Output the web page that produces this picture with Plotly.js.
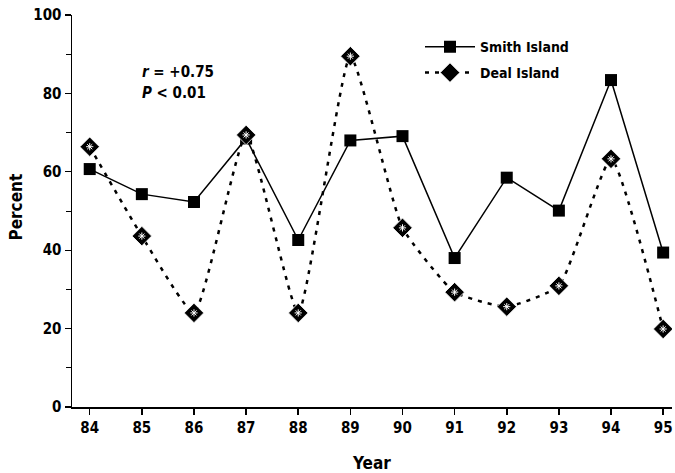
<!DOCTYPE html>
<html>
<head>
<meta charset="utf-8">
<script src="https://cdn.plot.ly/plotly-3.0.1.min.js"></script>
<style>
html,body{margin:0;padding:0;background:#fff;}
#chart{width:675px;height:473px;}
#chart text{font-stretch:condensed !important;}
</style>
</head>
<body>
<div id="chart"></div>
<script>
var years = [84, 85, 86, 87, 88, 89, 90, 91, 92, 93, 94, 95];
var smithIsland = [60.7, 54.3, 52.3, 68.5, 42.6, 68.0, 69.1, 38.0, 58.5, 50.1, 83.4, 39.4];
var dealIsland = [66.4, 43.6, 24.0, 69.4, 24.0, 89.5, 45.7, 29.3, 25.6, 30.9, 63.3, 19.9];
var yTicks = [0, 20, 40, 60, 80, 100];

var FONT = '"DejaVu Sans", sans-serif';

var traces = [
  {
    x: years, y: smithIsland, name: 'Smith Island', type: 'scatter', mode: 'lines+markers',
    legend: 'legend',
    line: {color: '#000', width: 1.5},
    marker: {symbol: 'square', size: 12, color: '#000'}
  },
  {
    x: years, y: dealIsland, name: 'Deal Island', type: 'scatter', mode: 'lines+markers',
    legend: 'legend2',
    line: {color: '#000', width: 2.5, dash: '4px,6px', shape: 'spline', smoothing: 0.45},
    marker: {symbol: 'diamond', size: 15, color: '#000', line: {color: '#fff', width: 0.8}}
  },
  {
    x: years, y: dealIsland, name: 'Deal Island', type: 'scatter', mode: 'markers',
    showlegend: false, hoverinfo: 'skip',
    marker: {symbol: 'asterisk-open', size: 6, color: '#fff', line: {color: '#fff', width: 1}}
  }
];

var legFont = {family: FONT, size: 14, color: '#000', weight: 'bold'};

var layout = {
  width: 675, height: 473,
  margin: {l: 72, r: 3, t: 15, b: 66},
  paper_bgcolor: '#fff', plot_bgcolor: '#fff',
  font: {family: FONT, color: '#000', size: 15},
  showlegend: true,
  legend: {
    x: 0.58, y: 0.918, xanchor: 'left', yanchor: 'middle',
    bgcolor: 'rgba(0,0,0,0)', borderwidth: 0, font: legFont, itemwidth: 50
  },
  legend2: {
    x: 0.58, y: 0.852, xanchor: 'left', yanchor: 'middle',
    bgcolor: 'rgba(0,0,0,0)', borderwidth: 0, font: legFont, itemwidth: 50
  },
  xaxis: {
    range: [83.66, 95.17],
    tickvals: years, ticktext: years.map(String),
    showgrid: false, zeroline: false,
    showline: true, linecolor: '#000', linewidth: 1.5,
    ticks: 'outside', ticklen: 6, tickwidth: 1.5, tickcolor: '#000',
    tickfont: {family: FONT, size: 15, weight: 'bold'},
    title: {text: 'Year', font: {family: FONT, size: 17, weight: 'bold'}, standoff: 22}
  },
  yaxis: {
    range: [0, 100],
    tickvals: yTicks, ticktext: yTicks.map(String),
    showgrid: false, zeroline: false,
    showline: true, linecolor: '#000', linewidth: 1.5,
    ticks: 'outside', ticklen: 6, tickwidth: 1.2, tickcolor: '#000',
    tickfont: {family: FONT, size: 15, weight: 'bold'},
    minor: {tickvals: [10, 30, 50, 70, 90], ticks: 'outside', ticklen: 5, tickwidth: 1, tickcolor: '#000', showgrid: false}
  },
  annotations: [
    {
      xref: 'paper', yref: 'paper', x: -0.093, y: 0.51, xanchor: 'center', yanchor: 'middle',
      showarrow: false, textangle: -90,
      text: 'Percent',
      font: {family: FONT, size: 17, weight: 'bold', color: '#000'}
    },
    {
      xref: 'paper', yref: 'paper', x: 0.113, y: 0.855, xanchor: 'left', yanchor: 'middle',
      showarrow: false, align: 'left',
      text: '<i>r</i> = +0.75',
      font: {family: FONT, size: 15, weight: 'bold', color: '#000'}
    },
    {
      xref: 'paper', yref: 'paper', x: 0.113, y: 0.801, xanchor: 'left', yanchor: 'middle',
      showarrow: false, align: 'left',
      text: '<i>P</i> &lt; 0.01',
      font: {family: FONT, size: 15, weight: 'bold', color: '#000'}
    }
  ]
};

Plotly.newPlot('chart', traces, layout, {displayModeBar: false, staticPlot: true});
</script>
</body>
</html>
